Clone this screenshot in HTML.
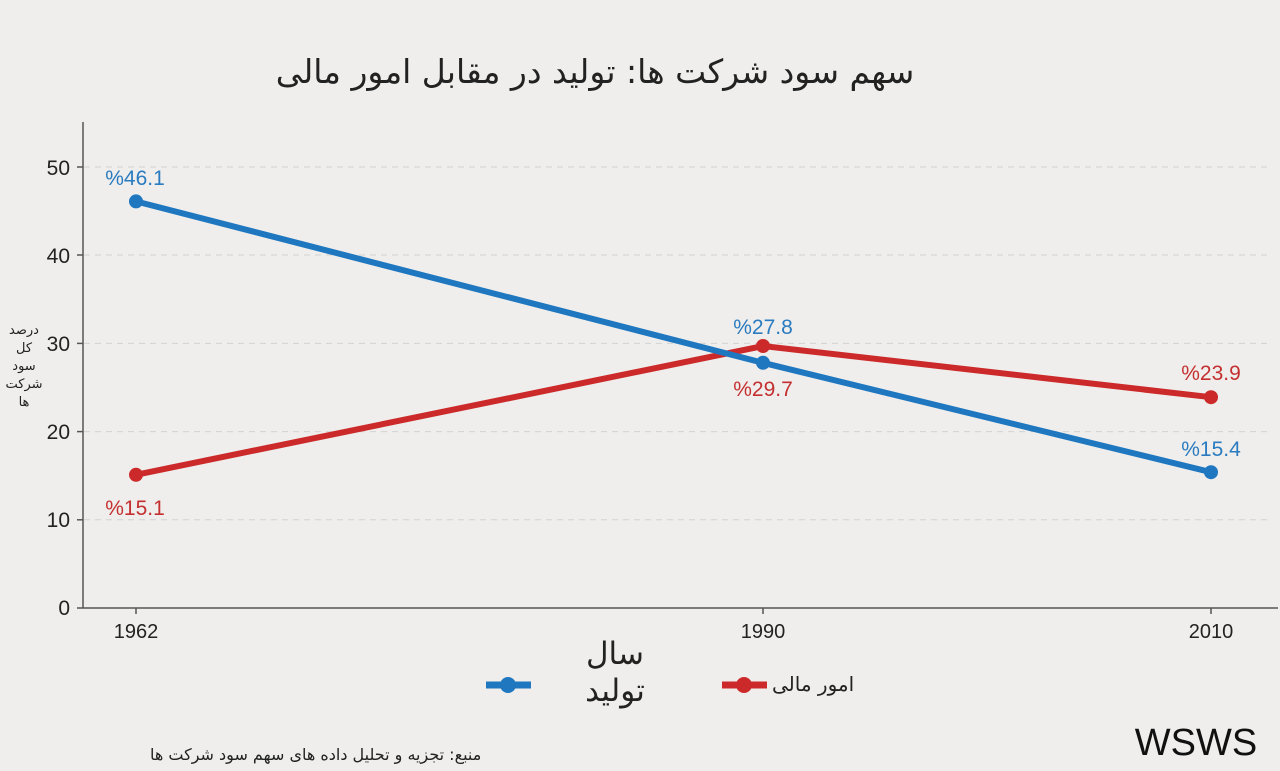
<!DOCTYPE html>
<html><head><meta charset="utf-8"><style>
body{margin:0;background:#efeeec;width:1280px;height:771px;overflow:hidden;position:relative;font-family:"Liberation Sans","DejaVu Sans",sans-serif}
.ar{position:absolute;font-family:"DejaVu Sans","Noto Sans CJK SC",sans-serif;direction:rtl;white-space:nowrap;color:#222}
</style></head><body>
<svg width="1280" height="771" style="position:absolute;left:0;top:0">
<g stroke="#d2d2d2" stroke-dasharray="6,5" stroke-width="1">
<line x1="84" y1="167" x2="1270" y2="167"/><line x1="84" y1="255" x2="1270" y2="255"/>
<line x1="84" y1="343.4" x2="1270" y2="343.4"/><line x1="84" y1="431.6" x2="1270" y2="431.6"/>
<line x1="84" y1="519.8" x2="1270" y2="519.8"/></g>
<g stroke="#555" stroke-width="1.5">
<line x1="83" y1="122" x2="83" y2="608"/><line x1="83" y1="608" x2="1278" y2="608"/>
<line x1="77" y1="167" x2="83" y2="167"/><line x1="77" y1="255" x2="83" y2="255"/><line x1="77" y1="343.4" x2="83" y2="343.4"/>
<line x1="77" y1="431.6" x2="83" y2="431.6"/><line x1="77" y1="519.8" x2="83" y2="519.8"/><line x1="77" y1="608" x2="83" y2="608"/>
<line x1="136" y1="608" x2="136" y2="614"/><line x1="763" y1="608" x2="763" y2="614"/><line x1="1211" y1="608" x2="1211" y2="614"/>
</g>
<g font-size="21" fill="#222" text-anchor="end">
<text x="70" y="175">50</text><text x="70" y="263">40</text><text x="70" y="351">30</text>
<text x="70" y="439">20</text><text x="70" y="527">10</text><text x="70" y="615">0</text></g>
<g font-size="20" fill="#222" text-anchor="middle">
<text x="136" y="638">1962</text><text x="763" y="638">1990</text><text x="1211" y="638">2010</text></g>
<polyline points="136,474.8 763,346 1211,397.2" fill="none" stroke="#cc2a2a" stroke-width="6"/>
<polyline points="136,201.4 763,362.8 1211,472.2" fill="none" stroke="#1f77c0" stroke-width="6"/>
<g fill="#cc2a2a"><circle cx="136" cy="474.8" r="7"/><circle cx="763" cy="346" r="7"/><circle cx="1211" cy="397.2" r="7"/></g>
<g fill="#1f77c0"><circle cx="136" cy="201.4" r="7"/><circle cx="763" cy="362.8" r="7"/><circle cx="1211" cy="472.2" r="7"/></g>
<g font-size="21" text-anchor="middle">
<text x="135" y="185" fill="#2a7bbf">%46.1</text><text x="763" y="334" fill="#2a7bbf">%27.8</text><text x="1211" y="456" fill="#2a7bbf">%15.4</text>
<text x="135" y="515" fill="#c43030">%15.1</text><text x="763" y="396" fill="#c43030">%29.7</text><text x="1211" y="380" fill="#c43030">%23.9</text></g>
<line x1="486" y1="685" x2="531" y2="685" stroke="#1f77c0" stroke-width="7"/><circle cx="508" cy="685" r="8" fill="#1f77c0"/>
<line x1="722" y1="685" x2="767" y2="685" stroke="#cc2a2a" stroke-width="7"/><circle cx="744" cy="685" r="8" fill="#cc2a2a"/>
<text x="1196" y="755" font-size="38" fill="#111" text-anchor="middle">WSWS</text>
</svg>
<div class="ar" style="left:262px;top:52px;width:666px;font-size:33px;text-align:center">سهم سود شرکت ها: تولید در مقابل امور مالی</div>
<div class="ar" style="left:0;top:322px;width:48px;font-size:13px;line-height:18px;text-align:center;white-space:normal">درصد<br>کل<br>سود<br>شرکت<br>ها</div>
<div class="ar" style="left:555px;top:636px;width:120px;font-size:31px;line-height:37px;text-align:center">سال<br>تولید</div>
<div class="ar" style="left:772px;top:672px;font-size:20px">امور مالی</div>
<div class="ar" style="left:150px;top:745px;font-size:16px">منبع: تجزیه و تحلیل داده های سهم سود شرکت ها</div>
</body></html>
